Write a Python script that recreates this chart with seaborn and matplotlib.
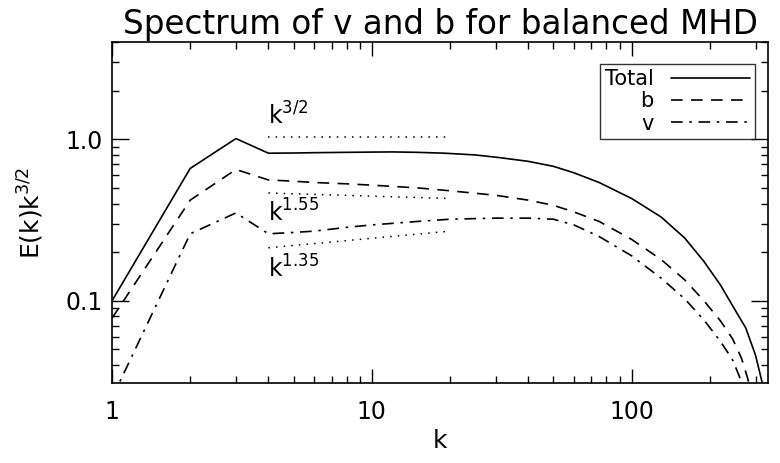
import numpy as np
import pandas as pd
import matplotlib
matplotlib.use('Agg')
import matplotlib.pyplot as plt
import matplotlib.ticker as mticker
import seaborn as sns

# values
k_total = [1, 2, 3, 4, 5, 6, 8, 10, 12, 15, 19, 25, 31, 40, 50, 60, 75, 100, 130, 160, 190, 220, 250, 275, 300, 320, 335]
e_total = [0.10, 0.66, 1.01, 0.82, 0.822, 0.826, 0.83, 0.833, 0.835, 0.83, 0.82, 0.80, 0.77, 0.73, 0.68, 0.62, 0.54, 0.43, 0.33, 0.245, 0.175, 0.125, 0.088, 0.068, 0.046, 0.030, 0.018]

k_b = [1, 2, 3, 4, 5, 6, 8, 10, 15, 20, 30, 40, 50, 60, 75, 100, 130, 160, 190, 220, 245, 265, 280, 295]
e_b = [0.078, 0.42, 0.65, 0.56, 0.55, 0.54, 0.53, 0.52, 0.50, 0.48, 0.45, 0.42, 0.39, 0.355, 0.31, 0.24, 0.18, 0.135, 0.10, 0.075, 0.058, 0.044, 0.033, 0.023]

k_v = [1, 2, 3, 4, 5, 6, 8, 10, 15, 20, 30, 40, 50, 60, 75, 100, 130, 160, 190, 220, 245, 260, 272, 285]
e_v = [0.025, 0.26, 0.35, 0.26, 0.265, 0.27, 0.285, 0.295, 0.31, 0.32, 0.325, 0.325, 0.32, 0.295, 0.25, 0.19, 0.138, 0.103, 0.076, 0.056, 0.043, 0.034, 0.026, 0.019]

# dotted reference slopes (end points as read)
k_ref = [4, 20]
ref_15 = [1.04, 1.04]
ref_155 = [0.465, 0.43]
ref_135 = [0.213, 0.27]

sns.set_style('ticks')
plt.rcParams['font.family'] = ['DejaVu Sans']
plt.rcParams['mathtext.default'] = 'regular'
plt.rcParams['text.color'] = 'k'
plt.rcParams['axes.labelcolor'] = 'k'

fig = plt.figure(figsize=(7.8, 4.63), dpi=100)
ax = fig.add_axes([112/780, 1 - 383/463, (768-112)/780, (383-42)/463])

df = pd.DataFrame({'k': k_total, 'E': e_total})
sns.lineplot(data=df, x='k', y='E', ax=ax, color='k', lw=1.2, label='Total')
df = pd.DataFrame({'k': k_b, 'E': e_b})
sns.lineplot(data=df, x='k', y='E', ax=ax, color='k', lw=1.2, linestyle=(0, (7, 5)), label='b')
df = pd.DataFrame({'k': k_v, 'E': e_v})
sns.lineplot(data=df, x='k', y='E', ax=ax, color='k', lw=1.2, linestyle=(0, (7, 4, 1.5, 4)), label='v')

for r in [ref_15, ref_155, ref_135]:
    sns.lineplot(x=k_ref, y=r, ax=ax, color='k', lw=1.1, linestyle=(0, (1, 4)), legend=False)

ax.text(4, 1.15, r'k$^{3/2}$', fontsize=17, ha='left', va='bottom')
ax.text(4, 0.35, r'k$^{1.55}$', fontsize=17, ha='left', va='center')
ax.text(4, 0.158, r'k$^{1.35}$', fontsize=17, ha='left', va='center')

ax.set_xscale('log')
ax.set_yscale('log')
ax.set_xlim(1, 335)
ax.set_ylim(0.031, 4.0)

ax.xaxis.set_major_locator(mticker.FixedLocator([1, 10, 100]))
ax.xaxis.set_major_formatter(mticker.FixedFormatter(['1', '10', '100']))
ax.xaxis.set_minor_locator(mticker.LogLocator(base=10, subs=np.arange(2, 10)))
ax.xaxis.set_minor_formatter(mticker.NullFormatter())
ax.yaxis.set_major_locator(mticker.FixedLocator([0.1, 1.0]))
ax.yaxis.set_major_formatter(mticker.FixedFormatter(['0.1', '1.0']))
ax.yaxis.set_minor_locator(mticker.LogLocator(base=10, subs=np.arange(2, 10)))
ax.yaxis.set_minor_formatter(mticker.NullFormatter())

ax.tick_params(which='both', direction='in', top=True, right=True, colors='k', labelsize=17, width=1)
ax.tick_params(axis='x', which='major', length=10, pad=12)
ax.tick_params(axis='y', which='major', length=12, pad=7)
ax.tick_params(which='minor', length=5)
for s in ax.spines.values():
    s.set_linewidth(1.2)
    s.set_color('k')

ax.set_xlabel('k', fontsize=18, labelpad=4)
ax.set_ylabel(r'E(k)k$^{3/2}$', fontsize=18, labelpad=14)
ax.set_title('Spectrum of v and b for balanced MHD', fontsize=23.5, pad=6)

leg = ax.legend(loc='upper right', bbox_to_anchor=(0.98, 0.935), frameon=True, fancybox=False,
                edgecolor='k', fontsize=15, markerfirst=False, handlelength=3.8,
                borderpad=0.25, labelspacing=0.1, handletextpad=0.8, borderaxespad=0)
leg.get_frame().set_linewidth(1.0)

fig.savefig('out.png', dpi=100)
